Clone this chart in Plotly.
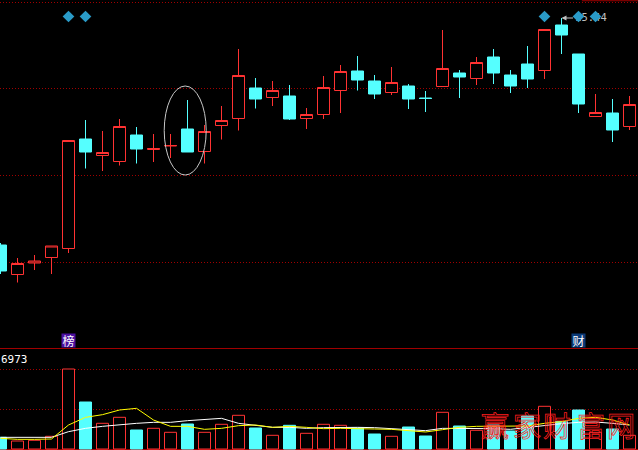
import plotly.graph_objects as go

open_ = [10.90,10.31,10.54,10.65,10.83,13.02,12.69,12.57,13.10,12.81,12.88,13.22,12.77,13.29,13.43,14.04,13.85,13.88,13.43,13.51,
         13.99,14.38,14.18,13.95,14.08,13.84,14.07,14.34,14.23,14.66,14.30,14.52,14.39,15.30,14.72,13.47,13.54,13.27]
close = [10.38,10.53,10.58,10.88,12.99,12.76,12.75,13.27,12.82,12.83,12.89,12.76,13.17,13.39,14.29,13.82,13.99,13.42,13.51,14.05,
         14.37,14.20,13.92,14.15,13.82,13.83,14.43,14.26,14.55,14.34,14.08,14.22,15.21,15.10,13.72,13.55,13.20,13.71]
high = [10.94,10.64,10.70,10.88,12.99,13.40,13.18,13.42,13.26,13.12,13.12,13.80,13.30,13.68,14.82,14.24,14.18,14.10,13.64,14.28,
        14.50,14.68,14.30,14.46,14.12,13.98,15.20,14.40,14.66,14.82,14.40,14.88,15.21,15.44,14.72,13.92,13.82,13.88]
low = [10.32,10.15,10.40,10.32,10.74,12.43,12.38,12.49,12.53,12.56,12.64,12.76,12.53,13.01,13.19,13.63,13.68,13.40,13.22,13.42,
       13.54,13.99,13.82,13.90,13.62,13.56,14.07,13.84,14.10,14.12,13.94,14.04,14.22,14.72,13.54,13.47,12.96,13.20]
volume = [1020,697,758,1107,6973,4097,2240,2763,1656,1804,1456,2179,1456,2153,2937,1830,1194,2066,1368,2153,
          2066,1830,1307,1107,1917,1133,3199,2005,1630,2092,1569,2876,3722,2380,3399,1456,1743,1194]
ma_yellow = [930,843,843,872,2092,2760,2992,3399,3545,2528,1976,1976,1714,1801,2034,2092,1888,1976,1888,1772,
             1801,1801,1743,1714,1569,1482,1685,1888,1976,1976,1976,2005,2237,2382,2673,2760,2528,2092]
ma_white = [1017,1017,1017,1017,1511,1801,1976,2121,2237,2324,2324,2469,2586,2673,2237,2092,1888,1888,1801,1859,
            1888,1888,1859,1772,1627,1598,1801,1801,1801,1772,1714,1888,2092,2208,2324,2353,2237,2092]
price_grid = [15.75, 14.03, 12.29, 10.56]
volume_grid = [6973, 3486]
marker_idx = [4, 5, 32, 34, 35]
marker_price = [15.47] * 5
high_label = "15.44"
volume_label = "6973"
watermark = ["赢", "家", "财", "富", "网"]
watermark_x = [495, 527, 557, 591, 621]

RED = "#ff3232"
CYAN = "#55ffff"
GRID = "#a00000"
idx = list(range(len(open_)))
bar_colors = ["#000000" if c > o else CYAN for o, c in zip(open_, close)]
bar_lines = [RED if c > o else CYAN for o, c in zip(open_, close)]

fig = go.Figure()
fig.add_trace(go.Candlestick(
    x=idx, open=open_, high=high, low=low, close=close, whiskerwidth=0,
    increasing=dict(line=dict(color=RED, width=1), fillcolor="#000000"),
    decreasing=dict(line=dict(color=CYAN, width=1), fillcolor=CYAN),
    xaxis="x", yaxis="y", showlegend=False, hoverinfo="skip"))
fig.add_trace(go.Scatter(
    x=[34.73], y=[15.43], mode="text", text=[high_label], textposition="middle center",
    textfont=dict(family="DejaVu Sans Mono", size=10.5, color="#c0c0c0"),
    xaxis="x", yaxis="y", showlegend=False, hoverinfo="skip", cliponaxis=False))
fig.add_trace(go.Scatter(
    x=marker_idx, y=marker_price, mode="markers",
    marker=dict(symbol="diamond", size=9, color="#2a9bc8"),
    xaxis="x", yaxis="y", showlegend=False, hoverinfo="skip"))
fig.add_trace(go.Scatter(
    x=[34.2, 37.6], y=[15.785, 15.785], mode="lines", line=dict(color="#a00000", width=1),
    xaxis="x", yaxis="y", showlegend=False, hoverinfo="skip"))
fig.add_trace(go.Bar(
    x=idx, y=volume, width=0.706,
    marker=dict(color=bar_colors, line=dict(color=bar_lines, width=1)),
    xaxis="x2", yaxis="y2", showlegend=False, hoverinfo="skip"))
fig.add_trace(go.Scatter(
    x=idx, y=ma_white, mode="lines", line=dict(color="#ffffff", width=1),
    xaxis="x2", yaxis="y2", showlegend=False, hoverinfo="skip"))
fig.add_trace(go.Scatter(
    x=idx, y=ma_yellow, mode="lines", line=dict(color="#ffff00", width=1),
    xaxis="x2", yaxis="y2", showlegend=False, hoverinfo="skip"))

xr = [-0.0294, 37.5]
annotations = [
    dict(x=33, y=15.44, xref="x", yref="y", ax=13, ay=0, axref="pixel", ayref="pixel",
         showarrow=True, arrowhead=2, arrowsize=1, arrowwidth=1, arrowcolor="#c0c0c0", text=""),
    dict(x=4, xref="x", xanchor="center", y=(450 - 340.5) / 450, yref="paper", yanchor="middle",
         text="榜", showarrow=False, bgcolor="#4b0fa0", width=13, height=13, borderpad=0,
         font=dict(family="Noto Sans CJK SC", size=12, color="#ffffff")),
    dict(x=34, xref="x", xanchor="center", y=(450 - 340.5) / 450, yref="paper", yanchor="middle",
         text="财", showarrow=False, bgcolor="#0a3a78", width=13, height=13, borderpad=0,
         font=dict(family="Noto Sans CJK SC", size=12, color="#ffffff")),
    dict(x=0, xref="paper", xanchor="left", y=(450 - 359) / 450, yref="paper", yanchor="middle",
         text=volume_label, showarrow=False, borderpad=0,
         font=dict(family="DejaVu Sans Mono", size=11, color="#ffffff")),
]
for ch, px in zip(watermark, watermark_x):
    annotations.append(dict(
        x=px / 638, xref="paper", xanchor="center", y=(450 - 425) / 450, yref="paper", yanchor="middle",
        text=ch, showarrow=False, borderpad=0,
        font=dict(family="Noto Sans CJK SC", size=28, color="#ff1e1e")))

fig.update_layout(
    width=638, height=450, margin=dict(l=0, r=0, t=0, b=0),
    paper_bgcolor="#000000", plot_bgcolor="#000000", showlegend=False,
    boxgap=0.1, boxgroupgap=0.2157, barmode="overlay",
    xaxis=dict(domain=[0, 1], range=xr, anchor="y", showgrid=False, showticklabels=False, ticks="",
               zeroline=False, showline=False, rangeslider=dict(visible=False)),
    yaxis=dict(domain=[(450 - 348.5) / 450, 1], range=[8.83, 15.8], tickvals=price_grid, showticklabels=False,
               ticks="", showgrid=True, gridcolor=GRID, griddash="1px,2px", gridwidth=1, zeroline=False),
    xaxis2=dict(domain=[0, 1], range=xr, anchor="y2", showgrid=False, showticklabels=False, ticks="",
                zeroline=False, showline=False),
    yaxis2=dict(domain=[0, (450 - 349) / 450], range=[-87, 8716], tickvals=volume_grid, showticklabels=False,
                ticks="", showgrid=True, gridcolor=GRID, griddash="1px,2px", gridwidth=1,
                zeroline=True, zerolinecolor=GRID, zerolinewidth=1),
    annotations=annotations,
    shapes=[dict(type="circle", xref="x", yref="y", x0=9.63, x1=12.1, y0=12.3, y1=14.08,
                 line=dict(color="#c8c8c8", width=1), layer="above"),
            dict(type="line", xref="paper", yref="paper", x0=0, x1=1, y0=(450 - 348.5) / 450, y1=(450 - 348.5) / 450,
                 line=dict(color=GRID, width=1), layer="above")],
)
post = """
document.body.style.margin='0';document.body.style.background='#000';
document.querySelectorAll('.annotation-text').forEach(function(t){
  if ('赢家财富网'.indexOf(t.textContent) >= 0 && parseFloat(t.style.fontSize) > 20) {
    t.style.fill='none'; t.style.stroke='#ff1e1e'; t.style.strokeWidth='0.75px';
  }
});
"""
fig.write_html("out.html", post_script=post, config={"displayModeBar": False})
